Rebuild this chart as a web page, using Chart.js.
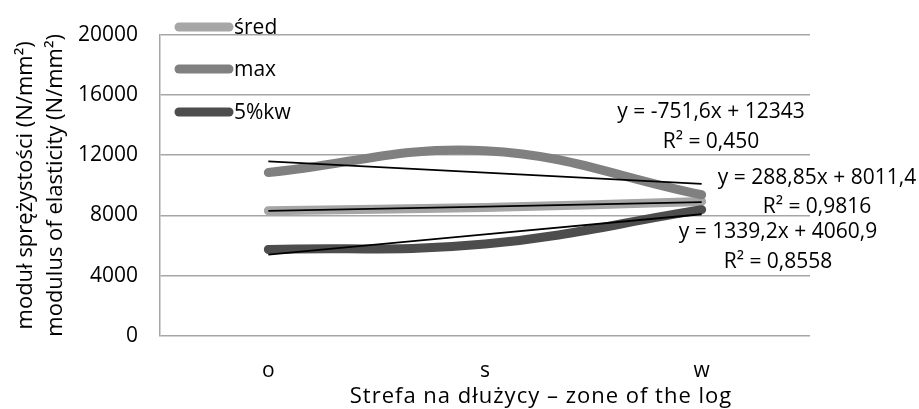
<!DOCTYPE html>
<html>
<head>
<meta charset="utf-8">
<script src="https://cdn.jsdelivr.net/npm/chart.js@4/dist/chart.umd.min.js"></script>
<style>
  html, body { margin: 0; padding: 0; background: #fff; }
  #wrap { width: 919px; height: 409px; position: relative; }
</style>
</head>
<body>
<div id="wrap"><canvas id="chart"></canvas></div>
<script>
// zones along the log
const categories = ['o', 's', 'w'];

// measured series (N/mm2)
const sredValues = [8317, 8520, 8930];
const maxValues  = [10845, 12300, 9373];
const kwValues   = [5743, 6100, 8383];

// linear trend lines
const sredTrend = [8300, 8589, 8878];
const maxTrend  = [11591, 10840, 10088];
const kwTrend   = [5400, 6739, 8078];

const yTickValues = [0, 4000, 8000, 12000, 16000, 20000];

const seriesNames = ['śred', 'max', '5%kw'];
const trendLabels = [
    ['y = -751,6x + 12343', 'R² = 0,450'],
    ['y = 288,85x + 8011,4', 'R² = 0,9816'],
    ['y = 1339,2x + 4060,9', 'R² = 0,8558']
];
const xTitle = 'Strefa na dłużycy – zone of the log';

const FONT = "'Open Sans', sans-serif";
const colSred = '#a6a6a6';
const colMax  = '#808080';
const colKw   = '#4d4d4d';
const seriesColors = [colSred, colMax, colKw];

// legend drawn at the top-left inside the plot, like the original
const legendPlugin = {
    id: 'cornerLegend',
    afterDraw(chart) {
        const c = chart.ctx;
        const rows = [27, 69, 112];
        c.save();
        c.lineCap = 'round';
        c.lineWidth = 9;
        c.font = '21px ' + FONT;
        c.textBaseline = 'middle';
        c.fillStyle = '#000';
        seriesNames.forEach((name, i) => {
            c.strokeStyle = seriesColors[i];
            c.beginPath();
            c.moveTo(179, rows[i]);
            c.lineTo(229, rows[i]);
            c.stroke();
            c.fillText(name, 234, rows[i] + 1);
        });
        c.restore();
    }
};

// trend equations and the x title (placed off-centre in the original)
const textPlugin = {
    id: 'freeText',
    afterDraw(chart) {
        const c = chart.ctx;
        const spots = [[711, 112, 142], [817, 178, 207], [778, 232, 262]];
        c.save();
        c.font = '21px ' + FONT;
        c.textAlign = 'center';
        c.textBaseline = 'middle';
        c.fillStyle = '#000';
        trendLabels.forEach((lines, i) => {
            c.fillText(lines[0], spots[i][0], spots[i][1]);
            c.fillText(lines[1], spots[i][0], spots[i][2]);
        });
        c.font = '22px ' + FONT;
        c.letterSpacing = '1px';
        c.fillText(xTitle, 541, 397);
        c.restore();
    }
};

const thick = (label, data, color, order) => ({
    label: label,
    data: data,
    borderColor: color,
    backgroundColor: color,
    borderWidth: 9,
    borderCapStyle: 'round',
    tension: 0.4,
    pointRadius: 0,
    order: order
});

const trend = (data) => ({
    label: 'trend',
    data: data,
    borderColor: '#000',
    borderWidth: 1.8,
    tension: 0,
    pointRadius: 0,
    order: 0
});

new Chart(document.getElementById('chart'), {
    type: 'line',
    data: {
        labels: categories,
        datasets: [
            thick(seriesNames[0], sredValues, colSred, 3),
            thick(seriesNames[1], maxValues, colMax, 2),
            thick(seriesNames[2], kwValues, colKw, 1),
            trend(maxTrend),
            trend(sredTrend),
            trend(kwTrend)
        ]
    },
    options: {
        responsive: true,
        maintainAspectRatio: false,
        animation: false,
        layout: { padding: { left: 0, right: 109, top: 33, bottom: 0 } },
        plugins: {
            legend: { display: false },
            tooltip: { enabled: false }
        },
        scales: {
            x: {
                offset: true,
                grid: { display: false },
                border: { display: false },
                ticks: { color: '#000', padding: 14, font: { family: FONT, size: 21 } },
                afterFit: s => { s.height = 73; }
            },
            y: {
                min: 0,
                max: 20000,
                afterBuildTicks: s => { s.ticks = yTickValues.map(v => ({ value: v })); },
                grid: { color: '#a6a6a6', lineWidth: 1.5, drawTicks: false },
                border: { display: true, color: '#a6a6a6', width: 1.5 },
                ticks: {
                    color: '#000',
                    padding: 22,
                    font: { family: FONT, size: 21 },
                    callback: v => String(v)
                },
                title: {
                    display: true,
                    text: ['moduł sprężystości (N/mm²)', 'modulus of elasticity (N/mm²)'],
                    color: '#000',
                    font: { family: FONT, size: 22, lineHeight: 30 / 22 },
                    padding: { top: 11, bottom: 0 }
                },
                afterFit: s => { s.width = 160; }
            }
        }
    },
    plugins: [legendPlugin, textPlugin]
});
</script>
</body>
</html>
